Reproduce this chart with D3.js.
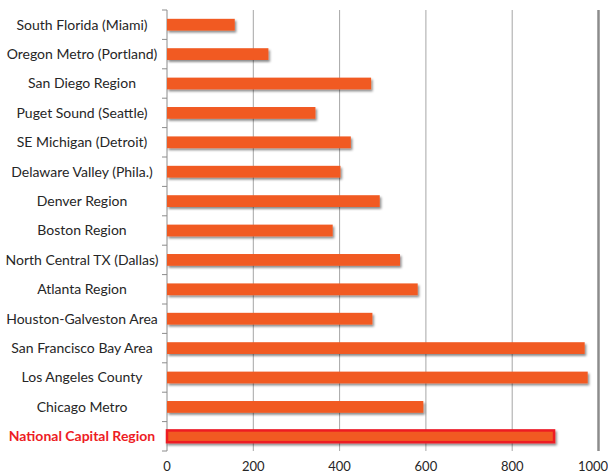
<!DOCTYPE html>
<html>
<head>
<meta charset="utf-8">
<script src="https://cdn.jsdelivr.net/npm/d3@7"></script>
<style>
  body { margin: 0; background: #fff; }
  text { font-family: Lato, "Open Sans", sans-serif; }
</style>
</head>
<body>
<svg id="chart" width="608" height="475"></svg>
<script>
// regions, top to bottom as drawn
var regions = [
  "South Florida (Miami)",
  "Oregon Metro (Portland)",
  "San Diego Region",
  "Puget Sound (Seattle)",
  "SE Michigan (Detroit)",
  "Delaware Valley (Phila.)",
  "Denver Region",
  "Boston Region",
  "North Central TX (Dallas)",
  "Atlanta Region",
  "Houston-Galveston Area",
  "San Francisco Bay Area",
  "Los Angeles County",
  "Chicago Metro",
  "National Capital Region"
];
var values = [157, 235, 473, 344, 426, 402, 493, 384, 540, 581, 476, 968, 975, 594, 897];
var xTicks = [0, 200, 400, 600, 800, 1000];
var highlight = "National Capital Region";

var svg = d3.select("#chart");
var plotLeft = 167, plotRight = 598.5, plotTop = 10, plotBottom = 451;

var x = d3.scaleLinear().domain([0, 1000]).range([plotLeft, plotRight]);
var y = d3.scaleBand().domain(regions).range([plotTop, plotBottom])
  .paddingInner(0.6).paddingOuter(0.3);

var defs = svg.append("defs");
var shadow = defs.append("filter").attr("id", "shadow")
  .attr("x", "-5%").attr("y", "-50%").attr("width", "110%").attr("height", "220%");
shadow.append("feDropShadow")
  .attr("dx", 1.5).attr("dy", 2).attr("stdDeviation", 1)
  .attr("flood-color", "#000").attr("flood-opacity", 0.45);

// vertical gridlines
svg.append("g").selectAll("line")
  .data(xTicks.slice(1))
  .enter()
  .append("line")
    .attr("x1", function(d) { return x(d); })
    .attr("x2", function(d) { return x(d); })
    .attr("y1", plotTop).attr("y2", plotBottom)
    .attr("stroke", function(d) { return d == 1000 ? "#8c8c8c" : "#a6a6a6"; })
    .attr("stroke-width", function(d) { return d == 1000 ? 2.5 : 1; });

// left axis with ticks between categories
var step = y.step();
var axisG = svg.append("g");
axisG.append("line")
  .attr("x1", plotLeft).attr("x2", plotLeft)
  .attr("y1", plotTop).attr("y2", plotBottom)
  .attr("stroke", "#8c8c8c");
axisG.selectAll(".tick")
  .data(d3.range(regions.length + 1))
  .enter()
  .append("line")
    .attr("class", "tick")
    .attr("x1", plotLeft - 5).attr("x2", plotLeft)
    .attr("y1", function(i) { return plotTop + i * step; })
    .attr("y2", function(i) { return plotTop + i * step; })
    .attr("stroke", "#8c8c8c");

// bars
svg.append("g").selectAll("rect")
  .data(regions)
  .enter()
  .append("rect")
    .attr("x", x(0))
    .attr("y", function(d) { return y(d); })
    .attr("width", function(d, i) { return x(values[i]) - x(0); })
    .attr("height", y.bandwidth())
    .attr("fill", "#f15a24")
    .attr("stroke", function(d) { return d == highlight ? "#ed1c24" : "none"; })
    .attr("stroke-width", 2.5)
    .attr("filter", "url(#shadow)");

// category labels (centred in the left margin)
svg.append("g").selectAll("text")
  .data(regions)
  .enter()
  .append("text")
    .attr("x", 82)
    .attr("y", function(d) { return y(d) + y.bandwidth() / 2; })
    .attr("dy", "0.35em")
    .attr("text-anchor", "middle")
    .attr("font-size", 14)
    .attr("font-weight", function(d) { return d == highlight ? "bold" : "normal"; })
    .attr("fill", function(d) { return d == highlight ? "#ed1c24" : "#262626"; })
    .text(function(d) { return d; });

// x tick labels
svg.append("g").selectAll("text")
  .data(xTicks)
  .enter()
  .append("text")
    .attr("x", function(d) { return Math.min(x(d), 593); })
    .attr("y", 466)
    .attr("dy", "0.35em")
    .attr("text-anchor", "middle")
    .attr("font-size", 13)
    .attr("fill", "#262626")
    .text(function(d) { return d; });
</script>
</body>
</html>
